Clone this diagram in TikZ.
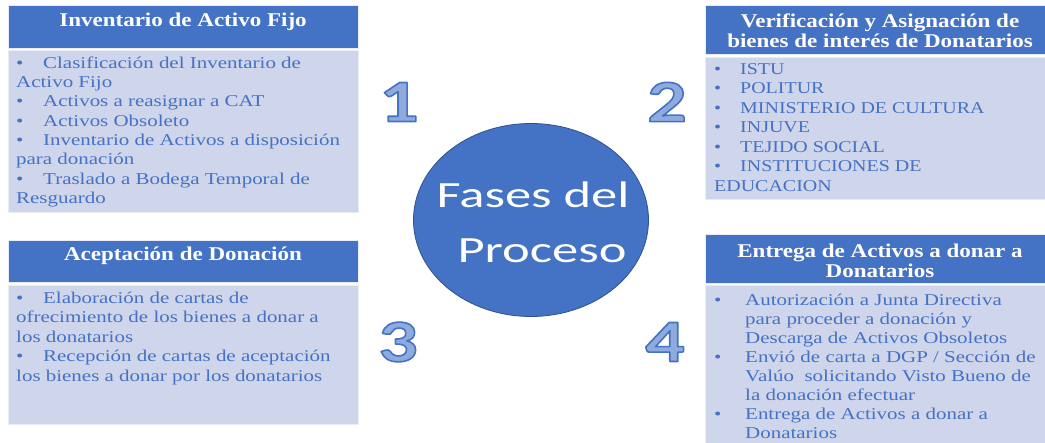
\documentclass[tikz,border=0pt]{standalone}
\usepackage{fontspec}
\setmainfont{Liberation Serif}
\newfontfamily\bodyfont[FakeStretch=1.27]{Liberation Serif}
\newfontfamily\capsfont[FakeStretch=1.21]{Liberation Serif}
\newfontfamily\headfont[FakeStretch=1.18]{Liberation Serif}
\newfontfamily\circfont[FakeStretch=1.42]{Carlito}
\newfontfamily\numfont[FakeStretch=1.3]{Carlito}
\usetikzlibrary{shapes.geometric}
\definecolor{headblue}{RGB}{68,114,196}
\definecolor{bodyfill}{RGB}{207,213,234}
\definecolor{rimline}{RGB}{233,236,245}
\definecolor{circline}{RGB}{47,82,143}
\definecolor{numfill}{RGB}{143,170,220}
\newcommand{\itm}[1][27pt]{\makebox[#1][l]{\textbullet}}
% cifra con contorno (modo de trazo del pdf)
\newcommand{\outdigit}[1]{\special{pdf:literal direct 2 Tr 1.6 w 0.267 0.447 0.769 RG}#1\special{pdf:literal direct 0 Tr}}

\begin{document}
\begin{tikzpicture}[x=1pt, y=-1pt, line join=round,
    head/.style={fill=headblue, draw=rimline, line width=0.8pt, anchor=north west, inner sep=0pt},
    body/.style={fill=bodyfill, draw=rimline, line width=0.8pt, anchor=north west, inner sep=0pt},
    headtext/.style={text=white, font=\headfont\bfseries\fontsize{19.5}{20}\selectfont, align=center, anchor=north, inner sep=0pt},
    bodytext/.style={text=headblue, font=\bodyfont\fontsize{16.5}{19.3}\selectfont, align=left, anchor=north west, inner sep=0pt},
    numstyle/.style={text=numfill, font=\numfont\bfseries\fontsize{60}{60}\selectfont, inner sep=0pt}]
    \useasboundingbox (0,0) rectangle (1045,443);
    \clip (0,0) rectangle (1045,443);

    % fase 1
    \node[head, minimum width=350pt, minimum height=43pt] (inv-head) at (8,5) {};
    \node[body, minimum width=350pt, minimum height=162pt] (inv-body) at (8,50) {};
    \node[headtext] (inv-title) at (183,12) {\strut Inventario de Activo Fijo};
    \node[bodytext] (inv-list) at (16,54.5) {\strut\itm Clasificación del Inventario de\\
        Activo Fijo\\
        \itm Activos a reasignar a CAT\\
        \itm Activos Obsoleto\\
        \itm Inventario de Activos a disposición\\
        para donación\\
        \itm Traslado a Bodega Temporal de\\
        Resguardo};

    % fase 2
    \node[head, minimum width=350pt, minimum height=49pt] (ver-head) at (705,5) {};
    \node[body, minimum width=350pt, minimum height=142pt] (ver-body) at (705,57) {};
    \node[headtext] (ver-title) at (880,13) {\strut Verificación y Asignación de\\
        bienes de interés de Donatarios};
    \node[bodytext, font=\capsfont\fontsize{16.5}{19.5}\selectfont] (ver-list) at (714,60.5) {\strut\itm[26pt]ISTU\\
        \itm[26pt]POLITUR\\
        \itm[26pt]MINISTERIO DE CULTURA\\
        \itm[26pt]INJUVE\\
        \itm[26pt]TEJIDO SOCIAL\\
        \itm[26pt]INSTITUCIONES DE\\
        EDUCACION};

    % fase 3
    \node[head, minimum width=350pt, minimum height=42pt] (acep-head) at (8,240) {};
    \node[body, minimum width=350pt, minimum height=139pt] (acep-body) at (8,285) {};
    \node[headtext] (acep-title) at (183,246) {\strut Aceptación de Donación};
    \node[bodytext, font=\bodyfont\fontsize{16.5}{19.5}\selectfont] (acep-list) at (16,289.5) {\strut\itm Elaboración de cartas de\\
        ofrecimiento de los bienes a donar a\\
        los donatarios\\
        \itm Recepción de cartas de aceptación\\
        los bienes a donar por los donatarios};

    % fase 4
    \node[head, minimum width=350pt, minimum height=49pt] (ent-head) at (705,234) {};
    \node[body, minimum width=350pt, minimum height=175pt] (ent-body) at (705,285) {};
    \node[headtext] (ent-title) at (880,243) {\strut Entrega de Activos a donar a\\
        Donatarios};
    \node[bodytext, font=\bodyfont\fontsize{16.5}{19.1}\selectfont] (ent-list) at (714,291.5) {\strut\itm[31pt]Autorización a Junta Directiva\\
        \hspace*{31pt}para proceder a donación y\\
        \hspace*{31pt}Descarga de Activos Obsoletos\\
        \itm[31pt]Envió de carta a DGP / Sección de\\
        \hspace*{31pt}Valúo~ solicitando Visto Bueno de\\
        \hspace*{31pt}la donación efectuar\\
        \itm[31pt]Entrega de Activos a donar a\\
        \hspace*{31pt}Donatarios};

    % centro
    \node[ellipse, fill=headblue, draw=circline, line width=0.8pt, minimum width=235pt, minimum height=193pt, inner sep=0pt] (fases) at (531,220) {};
    \node[text=white, font=\circfont\fontsize{37}{55}\selectfont, align=center, anchor=north, inner sep=0pt] (fases-text) at (533,168.5) {\strut Fases del\\
        \hspace*{18pt}Proceso};

    \node[numstyle] (num1) at (399,102) {\outdigit{1}};
    \node[numstyle] (num2) at (667,102) {\outdigit{2}};
    \node[numstyle] (num3) at (398,342) {\outdigit{3}};
    \node[numstyle] (num4) at (665,342) {\outdigit{4}};
\end{tikzpicture}
\end{document}
